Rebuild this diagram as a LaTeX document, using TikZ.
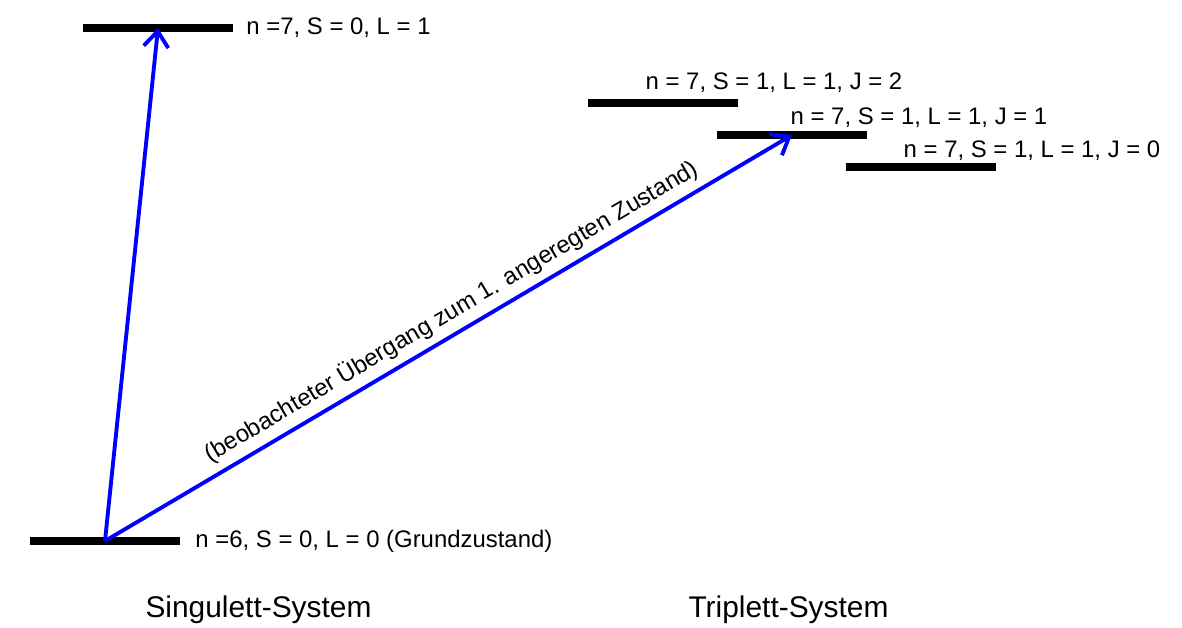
\documentclass[tikz,border=0pt]{standalone}
\usepackage{fontspec}
\setmainfont{Liberation Sans}
\usetikzlibrary{
  arrows.meta,
  positioning
}

\begin{document}
\begin{tikzpicture}[x=0.01cm, y=-0.01cm,
  every node/.style = {font=\fontsize{6.8}{8}\selectfont, inner sep=0pt},
  niveau/.style = {shape=rectangle, fill=black, minimum width=1.5cm,
    minimum height=0.08cm},
  uebergang/.style = {draw=blue, line width=1.1pt,
    -{Straight Barb[length=4.5pt, width=7pt]}},
  system/.style = {font=\fontsize{8.5}{10}\selectfont, anchor=base}]
  \useasboundingbox (0,0) rectangle (1182,627);
  % Singulett
  \node[niveau] (s0) at (105,541) {};
  \node[niveau] (s1) at (158,28) {};
  \node[right=0.14cm of s0] (s0txt) {n =6, S = 0, L = 0 (Grundzustand)};
  \node[right=0.12cm of s1] (s1txt) {n =7, S = 0, L = 1};
  % Triplett
  \node[niveau] (t2) at (663,103) {};
  \node[niveau] (t1) at (792,135) {};
  \node[niveau] (t0) at (921,167) {};
  \node[anchor=base west] (t2txt) at (645,89) {n = 7, S = 1, L = 1, J = 2};
  \node[anchor=base west] (t1txt) at (790,124) {n = 7, S = 1, L = 1, J = 1};
  \node[anchor=base west] (t0txt) at (903,157) {n = 7, S = 1, L = 1, J = 0};
  % Uebergaenge
  \draw[uebergang] (s0.center) -- (s1.center);
  \draw[uebergang] (s0.center) -- node[pos=0.52, above=2pt, sloped] (lbl)
    {(beobachteter Übergang zum 1. angeregten Zustand)} (t1.center);
  \node[system] (sing) at (258.5,617) {Singulett-System};
  \node[system] (trip) at (788.5,617) {Triplett-System};
\end{tikzpicture}
\end{document}
